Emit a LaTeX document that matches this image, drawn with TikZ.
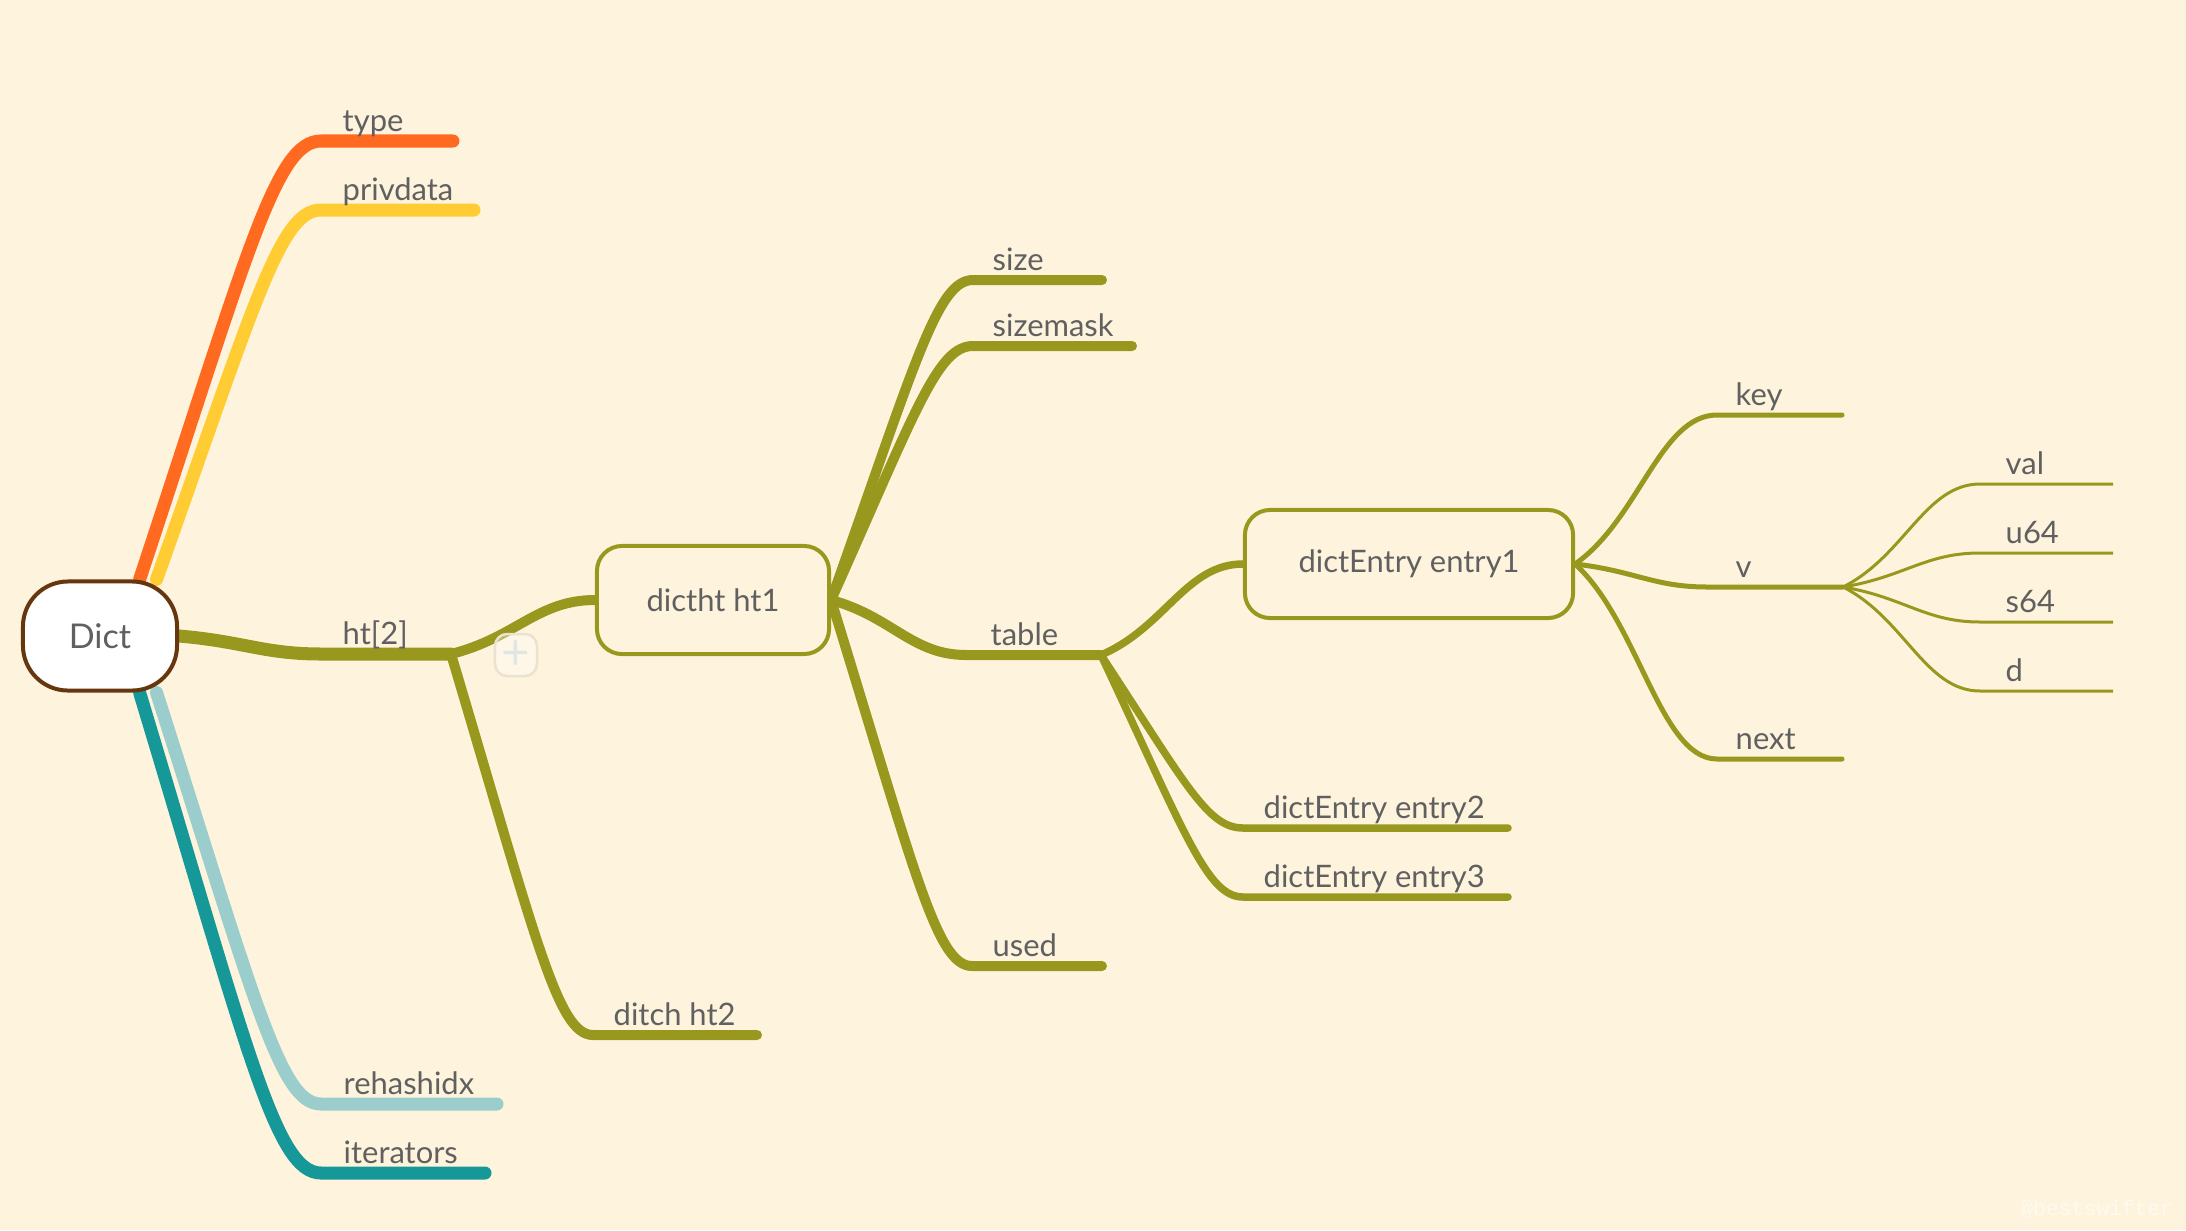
\documentclass[tikz,border=0pt]{standalone}
\usepackage{fontspec}
\setmainfont{Lato}
\setmonofont{Liberation Mono}
\usetikzlibrary{calc}

\definecolor{paper}{RGB}{254,244,221}
\definecolor{ink}{RGB}{96,96,96}
\definecolor{rootbrown}{RGB}{102,54,14}
\definecolor{tangerine}{RGB}{255,106,32}
\definecolor{sun}{RGB}{255,204,51}
\definecolor{moss}{RGB}{153,152,30}
\definecolor{mist}{RGB}{155,205,204}
\definecolor{sea}{RGB}{22,152,152}
\definecolor{plusgrey}{RGB}{225,230,228}

\newcommand{\mapfont}{\fontsize{8.8pt}{10pt}\selectfont}
\newcommand{\rootfont}{\fontsize{9.7pt}{11pt}\selectfont}

\pgfdeclarelayer{wires}
\pgfsetlayers{wires,main}

\tikzset{
  % curve from a parent to the start of a child's underline
  twig/.style n args={3}{to path={let \p1=(\tikztostart), \p2=(\tikztotarget) in
      .. controls ({\x1+#1*((\x2)-(\x1))},{\y1+#2*((\y2)-(\y1))})
         and ({\x2-#3*((\x2)-(\x1))},\y2) .. (\tikztotarget)}},
  fan/.style={twig={0.6}{0.75}{0.25}},
  sway/.style={twig={0.45}{0.3}{0.4}},
  bough/.style={line width=1.3mm, line cap=round},
  limb/.style={draw=moss, line width=1mm, line cap=round},
  shoot/.style={draw=moss, line width=0.75mm, line cap=round},
  sprig/.style={draw=moss, line width=0.5mm, line cap=round},
  hair/.style={draw=moss, line width=0.3mm},
  lbl/.style={text=ink, font=\mapfont, anchor=base west, inner sep=0pt},
  topic/.style={draw=moss, line width=0.4mm, rounded corners=2.5mm, fill=paper,
    text=ink, font=\mapfont, minimum height=1.08cm, inner sep=0pt},
  root/.style={draw=rootbrown, line width=0.4mm, rounded corners=4.5mm, fill=white,
    text=ink, font=\rootfont, minimum width=1.54cm, minimum height=1.09cm},
  plusbtn/.style={draw=black!7!paper, line width=0.25mm, rounded corners=1.2mm,
    fill=white, fill opacity=0.35, text opacity=1, text=plusgrey,
    minimum size=0.42cm, inner sep=0pt, font=\fontsize{14pt}{14pt}\selectfont},
  wmark/.style={text=white!55!paper, font=\ttfamily\fontsize{6pt}{6pt}\selectfont,
    anchor=base west, inner sep=0pt}
}

\begin{document}
\begin{tikzpicture}[x=0.01cm, y=-0.01cm]
  \useasboundingbox (0,0) rectangle (2186,1230);

  % topics with a frame
  \node[root] (dict) at (100,636) {Dict};
  \node[topic, minimum width=2.32cm] (ht1) at (713,600) {dictht ht1};
  \node[topic, minimum width=3.28cm] (entry1) at (1409,564) {dictEntry entry1};

  % plain topics: underline start, underline end, label
  \foreach \leaf/\xs/\xe/\yy/\xl/\txt in {
      type/321/453/141/342/type,
      privdata/321/474/210/342/privdata,
      ht/321/451/654/342/ht[2],
      rehash/321/497/1104/343/rehashidx,
      iter/321/485/1173/343/iterators,
      ht2/593/757/1035/613/ditch ht2,
      size/973/1102/280/992/size,
      mask/973/1132/346/992/sizemask,
      table/966/1101/655/990/table,
      used/972/1102/966/992/used,
      entry2/1243/1508/828/1263/dictEntry entry2,
      entry3/1243/1508/897/1263/dictEntry entry3,
      key/1717/1842/415/1735/key,
      v/1707/1843/587/1735/v,
      next/1717/1842/759/1735/next,
      val/1980/2113/484/2005/val,
      u64/1980/2113/553/2005/u64,
      s64/1980/2113/622/2005/s64,
      d/1980/2113/691/2005/d}
  {
    \coordinate (\leaf-s) at (\xs,\yy);
    \coordinate (\leaf-e) at (\xe,\yy);
    \node[lbl] (\leaf) at (\xl,\yy-10) {\txt};
  }

  \node[plusbtn] (plus) at (516,655) {+};
  \node[wmark] (sign) at (2020,1215) {@bestswifter};

  \begin{pgfonlayer}{wires}
    \fill[paper] (0,0) rectangle (2186,1230);
    % Dict
    \draw[bough, tangerine] (dict.55) to[fan] (type-s) -- (type-e);
    \draw[bough, sun] (dict.45) to[fan] (privdata-s) -- (privdata-e);
    \draw[bough, mist] (dict.-45) to[fan] (rehash-s) -- (rehash-e);
    \draw[bough, sea] (dict.-55) to[fan] (iter-s) -- (iter-e);
    \draw[bough, moss] (dict.east) to[sway] (ht-s) -- (ht-e);
    % ht[2]
    \draw[limb] (ht-e) to[sway] (ht1.west);
    \draw[limb] (ht-e) to[fan] (ht2-s) -- (ht2-e);
    % dictht ht1
    \foreach \leaf in {size,mask,used}
      \draw[limb] (ht1.east) to[fan] (\leaf-s) -- (\leaf-e);
    \draw[limb] (ht1.east) to[sway] (table-s) -- (table-e);
    % table
    \draw[shoot] (table-e) to[sway] (entry1.west);
    \foreach \leaf in {entry2,entry3}
      \draw[shoot] (table-e) to[fan] (\leaf-s) -- (\leaf-e);
    % dictEntry entry1
    \foreach \leaf in {key,v,next}
      \draw[sprig] (entry1.east) to[sway] (\leaf-s) -- (\leaf-e);
    % v
    \foreach \leaf in {val,u64,s64,d}
      \draw[hair] (v-e) to[sway] (\leaf-s) -- (\leaf-e);
  \end{pgfonlayer}
\end{tikzpicture}
\end{document}
